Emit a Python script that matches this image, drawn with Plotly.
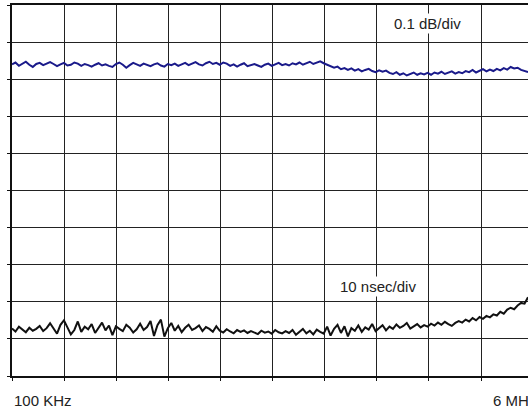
import numpy as np
import plotly.graph_objects as go

# Sample positions across the sweep, in horizontal grid divisions (100 KHz at 0)
n_points = 150
x_div = np.linspace(0, 9.9, n_points)

# Amplitude trace (0.1 dB/div), in vertical divisions
amplitude_div = [
    8.40, 8.45, 8.36, 8.42, 8.47, 8.39, 8.33, 8.41, 8.44, 8.38,
    8.43, 8.46, 8.41, 8.35, 8.40, 8.44, 8.37, 8.39, 8.45, 8.42,
    8.36, 8.41, 8.38, 8.34, 8.39, 8.43, 8.37, 8.40, 8.36, 8.33,
    8.41, 8.45, 8.39, 8.31, 8.38, 8.44, 8.40, 8.36, 8.42, 8.39,
    8.35, 8.40, 8.43, 8.37, 8.34, 8.41, 8.38, 8.42, 8.36, 8.40,
    8.44, 8.38, 8.41, 8.46, 8.40, 8.37, 8.43, 8.47, 8.41, 8.44,
    8.39, 8.45, 8.42, 8.36, 8.40, 8.34, 8.39, 8.43, 8.35, 8.38,
    8.41, 8.37, 8.33, 8.39, 8.42, 8.36, 8.40, 8.44, 8.38, 8.41,
    8.37, 8.43, 8.40, 8.45, 8.39, 8.42, 8.47, 8.41, 8.44, 8.48,
    8.43, 8.39, 8.35, 8.31, 8.34, 8.27, 8.30, 8.25, 8.29, 8.23,
    8.27, 8.21, 8.25, 8.28, 8.22, 8.19, 8.24, 8.20, 8.23, 8.17,
    8.14, 8.19, 8.12, 8.16, 8.10, 8.15, 8.18, 8.12, 8.16, 8.13,
    8.17, 8.12, 8.18, 8.15, 8.20, 8.14, 8.17, 8.21, 8.15, 8.19,
    8.16, 8.22, 8.19, 8.25, 8.18, 8.23, 8.27, 8.21, 8.26, 8.22,
    8.28, 8.24, 8.30, 8.26, 8.33, 8.29, 8.31, 8.25, 8.21, 8.19,
]

# Group delay trace (10 nsec/div), in vertical divisions
delay_div = [
    1.28, 1.20, 1.33, 1.25, 1.18, 1.30, 1.22, 1.27, 1.35, 1.21,
    1.29, 1.42, 1.26, 1.14, 1.38, 1.50, 1.31, 1.12, 1.24, 1.47,
    1.19, 1.33, 1.26, 1.40, 1.16, 1.29, 1.44, 1.23, 1.36, 1.10,
    1.34, 1.27, 1.21, 1.38, 1.30, 1.17, 1.26, 1.41, 1.24, 1.32,
    1.48, 1.08, 1.37, 1.52, 1.06, 1.29, 1.43, 1.22, 1.35, 1.18,
    1.30, 1.38, 1.24, 1.29, 1.36, 1.21, 1.32, 1.27, 1.19, 1.34,
    1.22, 1.17, 1.26, 1.20, 1.15, 1.24, 1.19, 1.23, 1.16, 1.21,
    1.18, 1.13, 1.22, 1.17, 1.20, 1.14, 1.24, 1.18, 1.15, 1.21,
    1.16, 1.24, 1.11, 1.20, 1.27, 1.15, 1.22, 1.12, 1.25, 1.19,
    1.14, 1.33, 1.09, 1.27, 1.38, 1.16, 1.34, 1.07, 1.29, 1.22,
    1.36, 1.19, 1.31, 1.25, 1.40, 1.21, 1.28, 1.37, 1.23, 1.33,
    1.27, 1.39, 1.30, 1.35, 1.43, 1.28, 1.34, 1.40, 1.31, 1.37,
    1.33, 1.41, 1.36, 1.44, 1.38, 1.46, 1.40, 1.35, 1.43, 1.48,
    1.44, 1.52, 1.47, 1.56, 1.50, 1.59, 1.54, 1.62, 1.58, 1.66,
    1.63, 1.73, 1.68, 1.79, 1.84, 1.80, 1.90, 1.97, 1.95, 2.12,
]

freq_labels = ["100 KHz", "6 MHz"]
scale_labels = ["0.1 dB/div", "10 nsec/div"]

FONT = "Liberation Sans, Arial, sans-serif"

fig = go.Figure()
fig.add_trace(go.Scatter(x=x_div, y=amplitude_div, mode="lines",
                         line=dict(color="#1a1a8a", width=2), hoverinfo="skip"))
fig.add_trace(go.Scatter(x=x_div, y=delay_div, mode="lines",
                         line=dict(color="#111111", width=2), hoverinfo="skip"))

fig.update_xaxes(range=[0, 9.9], dtick=1, tick0=0, showgrid=True,
                 gridcolor="#222222", gridwidth=1, zeroline=False,
                 showline=True, mirror=True, linecolor="#111111", linewidth=2,
                 ticks="outside", ticklen=3, tickcolor="#111111",
                 showticklabels=False)
fig.update_yaxes(range=[0, 10], dtick=1, tick0=0, showgrid=True,
                 gridcolor="#222222", gridwidth=1, zeroline=False,
                 showline=True, mirror=False, linecolor="#111111", linewidth=2,
                 ticks="outside", ticklen=3, tickcolor="#111111",
                 showticklabels=False)

annotations = [
    dict(text=scale_labels[0], x=7.97, y=9.49, xref="x", yref="y",
         showarrow=False, bgcolor="white", borderpad=1,
         font=dict(family=FONT, size=15, color="#222222")),
    dict(text=scale_labels[1], x=7.02, y=2.4, xref="x", yref="y",
         showarrow=False, bgcolor="white", borderpad=1,
         font=dict(family=FONT, size=15, color="#222222")),
    dict(text=freq_labels[0], x=0, y=0, xref="paper", yref="paper",
         xanchor="left", yanchor="middle", yshift=-24, showarrow=False,
         font=dict(family=FONT, size=15, color="#222222")),
    dict(text=freq_labels[1], x=9.19, y=0, xref="x", yref="paper",
         xanchor="left", yanchor="middle", yshift=-24, showarrow=False,
         font=dict(family=FONT, size=15, color="#222222")),
]

fig.update_layout(
    width=528, height=414,
    margin=dict(l=12, r=0, t=5, b=38),
    paper_bgcolor="white", plot_bgcolor="white",
    showlegend=False,
    annotations=annotations,
)

fig.write_html("out.html",
               config={"displayModeBar": False},
               post_script="document.body.style.margin='0';document.body.style.overflow='hidden';")
